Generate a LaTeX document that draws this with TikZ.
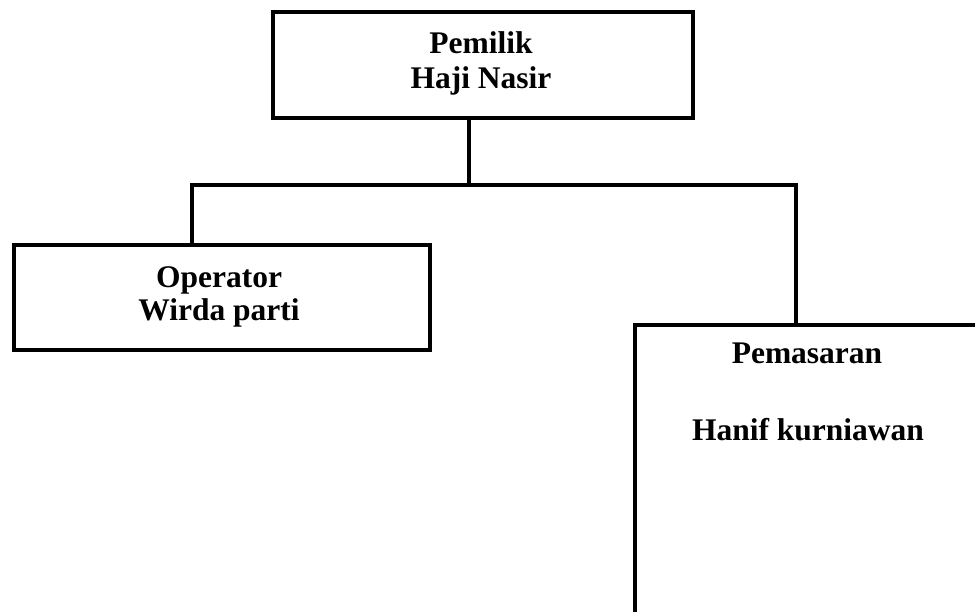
\documentclass[tikz,border=0pt]{standalone}
\usepackage{fontspec}
\setmainfont{Liberation Serif}
\begin{document}
\begin{tikzpicture}[x=1pt,y=-1pt,
  box/.style={draw=black,line width=3.6pt,rectangle,inner sep=0pt,anchor=north west},
  txt/.style={font=\fontsize{31.5}{34}\selectfont\bfseries,align=center,inner sep=0pt},
  conn/.style={draw=black,line width=3.6pt,line cap=rect,line join=miter}]
\useasboundingbox (0,0) rectangle (975,611);
\clip (0,0) rectangle (975,611);
% boxes
\node[box,minimum width=420pt,minimum height=106pt] (top) at (271,10) {};
\node[box,minimum width=416pt,minimum height=105pt] (op) at (12,243) {};
\node[box,minimum width=420pt,minimum height=340pt] (pem) at (633,323) {};
% texts
\node[txt,anchor=base] (topA) at (481,53) {Pemilik};
\node[txt,anchor=base] (topB) at (481,88) {Haji Nasir};
\node[txt,anchor=base] (opA) at (219,287) {Operator};
\node[txt,anchor=base] (opB) at (219,320) {Wirda parti};
\node[txt,anchor=base] (pemA) at (807,363) {Pemasaran};
\node[txt,anchor=base] (pemB) at (808,440) {Hanif kurniawan};
% connectors
\coordinate (j) at (469,185);
\coordinate (lj) at (192,185);
\coordinate (rj) at (796,185);
\draw[conn] (top.south -| j) -- (j);
\draw[conn] (op.north -| lj) -- (lj) -- (rj) -- (pem.north -| rj);
\end{tikzpicture}
\end{document}
